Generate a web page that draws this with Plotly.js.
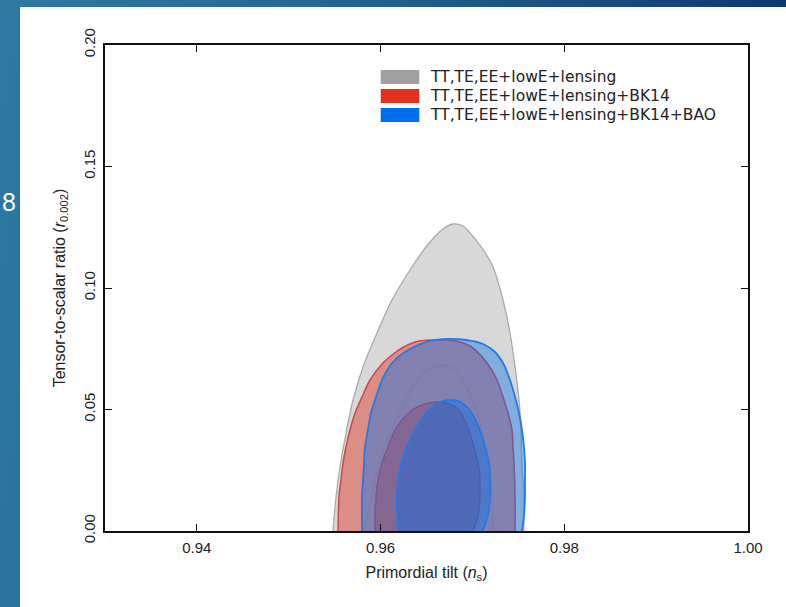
<!DOCTYPE html>
<html>
<head>
<meta charset="utf-8">
<script src="https://cdn.plot.ly/plotly-3.0.1.min.js"></script>
<style>
  html, body { margin:0; padding:0; }
  body { width:786px; height:607px; position:relative; overflow:hidden;
    background: linear-gradient(100deg, #2d7aa3 0%, #22648f 40%, #0b2d66 100%); }
  #slideNum { position:absolute; left:2px; top:188px; color:#ffffff; font-family:"Liberation Sans", Arial, sans-serif; font-size:25px; }
  #chart { position:absolute; left:20px; top:7px; width:766px; height:600px; background:#ffffff; }
</style>
</head>
<body>
<div id="slideNum">8</div>
<div id="chart"></div>
<script>
// ---------------- data ----------------
const legendLabels = [
  "TT,TE,EE+lowE+lensing",
  "TT,TE,EE+lowE+lensing+BK14",
  "TT,TE,EE+lowE+lensing+BK14+BAO"
];
const xTickVals = [0.94, 0.96, 0.98, 1.00];
const xTickText = ["0.94", "0.96", "0.98", "1.00"];
const yTickVals = [0.00, 0.05, 0.10, 0.15, 0.20];
const yTickText = ["0.00", "0.05", "0.10", "0.15", "0.20"];

// TT,TE,EE+lowE+lensing : 95% and 68% contours
const grayOuterX = [0.95482,0.95515,0.95558,0.95624,0.95700,0.95809,0.95961,0.96124,0.96342,0.96538,0.96680,0.96788,0.96897,0.96974,0.97104,0.97224,0.97333,0.97409,0.97464,0.97507,0.97529,0.97540,0.97561,0.97561];
const grayOuterY = [0,0.01399,0.02634,0.04033,0.05391,0.06749,0.08148,0.09506,0.10864,0.11893,0.12428,0.12634,0.12551,0.12263,0.11646,0.10864,0.09506,0.08148,0.06749,0.05391,0.04033,0.02634,0.01399,0];
const grayInnerX = [0.95830,0.95863,0.95907,0.95939,0.95994,0.96048,0.96124,0.96212,0.96320,0.96429,0.96538,0.96647,0.96756,0.96865,0.96952,0.97039,0.97104,0.97148,0.97180,0.97202,0.97213,0.97224];
const grayInnerY = [0,0.00658,0.01399,0.02099,0.02798,0.03457,0.04156,0.04897,0.05720,0.06337,0.06708,0.06831,0.06749,0.06379,0.05802,0.04979,0.04156,0.03457,0.02798,0.02099,0.01399,0];

// +BK14
const redOuterX = [0.95537,0.95547,0.95569,0.95591,0.95624,0.95667,0.95722,0.95798,0.95885,0.96026,0.96124,0.96233,0.96375,0.96571,0.96756,0.96974,0.97159,0.97268,0.97333,0.97387,0.97431,0.97442,0.97453,0.97464,0.97464];
const redOuterY = [0,0.01399,0.02099,0.02798,0.03457,0.04156,0.04856,0.05514,0.06214,0.06914,0.07243,0.07531,0.07778,0.07860,0.07860,0.07613,0.06914,0.06214,0.05514,0.04856,0.04156,0.03457,0.02798,0.01399,0];
const redInnerX = [0.95939,0.95939,0.95950,0.95972,0.96016,0.96081,0.96157,0.96233,0.96342,0.96484,0.96625,0.96756,0.96865,0.96952,0.97017,0.97061,0.97082,0.97082,0.97061,0.97006];
const redInnerY = [0,0.00658,0.01399,0.02099,0.02798,0.03457,0.04156,0.04568,0.04979,0.05226,0.05309,0.05226,0.04897,0.04239,0.03457,0.02798,0.02099,0.01399,0.00658,0];

// +BK14+BAO
const blueOuterX = [0.95798,0.95798,0.95809,0.95820,0.95830,0.95863,0.95896,0.95950,0.96026,0.96135,0.96320,0.96538,0.96734,0.96930,0.97115,0.97246,0.97333,0.97409,0.97464,0.97507,0.97540,0.97561,0.97572,0.97572,0.97572,0.97561,0.97540];
const blueOuterY = [0,0.01399,0.02099,0.02798,0.03457,0.04156,0.04856,0.05514,0.06296,0.06955,0.07490,0.07819,0.07901,0.07860,0.07695,0.07366,0.06914,0.06214,0.05514,0.04856,0.04156,0.03457,0.02798,0.02099,0.01399,0.00658,0];
const blueInnerX = [0.96190,0.96179,0.96179,0.96212,0.96255,0.96320,0.96407,0.96505,0.96625,0.96756,0.96886,0.96995,0.97082,0.97137,0.97180,0.97191,0.97191,0.97170,0.97115];
const blueInnerY = [0,0.00864,0.01687,0.02510,0.03128,0.03745,0.04362,0.04897,0.05267,0.05391,0.05267,0.04856,0.04156,0.03457,0.02798,0.02099,0.01399,0.00658,0];

// ---------------- styles ----------------
const FONT = "Liberation Sans, Arial, sans-serif";
const LEGFONT = "DejaVu Sans, Liberation Sans, sans-serif";
const grayFill = "rgb(216,216,216)";
const grayLine = "rgb(170,170,170)";
const grayInnerLine = "rgb(200,200,200)";
const redFill = "rgba(224,40,20,0.42)";
const redLine = "rgb(205,70,80)";
const blueFill = "rgba(0,110,237,0.4)";
const blueLine = "rgb(35,122,232)";
const legendSwatch = ["rgb(160,160,160)", "rgb(224,50,30)", "rgb(0,110,236)"];

function contour(x, y, fill, line, width) {
  return {
    x: x, y: y, type: "scatter", mode: "lines",
    fill: fill ? "toself" : "none", fillcolor: fill || "rgba(0,0,0,0)",
    line: { color: line, width: width, shape: "spline", smoothing: 0.9 },
    hoverinfo: "skip", showlegend: false
  };
}

const traces = [
  contour(grayOuterX, grayOuterY, grayFill, grayLine, 1.3),
  contour(grayInnerX, grayInnerY, null, grayInnerLine, 1.6),
  contour(redOuterX, redOuterY, redFill, redLine, 1.5),
  contour(redInnerX, redInnerY, redFill, redLine, 1.5),
  contour(blueOuterX, blueOuterY, blueFill, blueLine, 1.8),
  contour(blueInnerX, blueInnerY, blueFill, blueLine, 1.8)
];

// legend built as shapes + annotations (paper coords)
const shapes = [];
const annotations = [];
const legX0 = 0.4288, legX1 = 0.4888, legTop = 0.9486, rowH = 0.0391, swH = 0.0288, textX = 0.502;
legendLabels.forEach(function (lab, i) {
  const yT = legTop - i * rowH;
  shapes.push({ type: "rect", xref: "paper", yref: "paper", x0: legX0, x1: legX1, y0: yT - swH, y1: yT,
    fillcolor: legendSwatch[i], line: { width: 0 } });
  annotations.push({ xref: "paper", yref: "paper", x: textX, y: yT - swH / 2, xanchor: "left", yanchor: "middle",
    text: lab, showarrow: false, font: { family: LEGFONT, size: 15.5, color: "#222" } });
});

const axisCommon = {
  showgrid: false, zeroline: false, showline: true, linecolor: "#111", linewidth: 1.6,
  mirror: "ticks", ticks: "inside", ticklen: 7, tickwidth: 1, tickcolor: "#111",
  tickfont: { family: FONT, size: 15, color: "#222" }
};

const layout = {
  width: 766, height: 600,
  margin: { l: 85, r: 38, t: 38, b: 76 },
  paper_bgcolor: "#ffffff", plot_bgcolor: "#ffffff",
  showlegend: false,
  xaxis: Object.assign({}, axisCommon, {
    range: [0.93, 1.00], tickvals: xTickVals, ticktext: xTickText, ticklabelstandoff: 2,
    title: { text: "Primordial tilt (<i>n</i><sub>s</sub>)", font: { family: FONT, size: 16, color: "#222" }, standoff: 12 }
  }),
  yaxis: Object.assign({}, axisCommon, {
    range: [0, 0.20], tickvals: yTickVals, ticktext: yTickText, tickangle: -90, ticklabelstandoff: 2,
    title: { text: "Tensor-to-scalar ratio (<i>r</i><sub>0.002</sub>)", font: { family: FONT, size: 16, color: "#222" }, standoff: 12 }
  }),
  shapes: shapes,
  annotations: annotations
};

Plotly.newPlot("chart", traces, layout, { displayModeBar: false, staticPlot: true });
</script>
</body>
</html>
